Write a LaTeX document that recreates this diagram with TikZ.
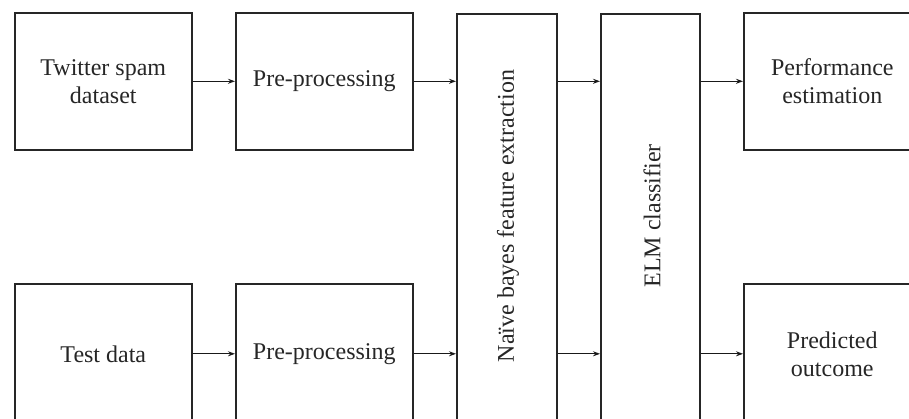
\documentclass[tikz,border=0pt]{standalone}
\usepackage{fontspec}
\setmainfont{Liberation Serif}
\usetikzlibrary{arrows.meta}
\begin{document}
\begin{tikzpicture}[x=1pt,y=-1pt,
  box/.style={draw=black!85, line width=1.6pt, inner sep=0pt, anchor=north west,
    font=\fontsize{24}{28}\selectfont, align=center, text=black!85},
  conn/.style={draw=black!90, line width=1.1pt, -{Stealth[length=7pt,width=5pt]}}]
\useasboundingbox (0,0) rectangle (909,419);
\clip (0,0) rectangle (909,419);
\node[box, minimum width=177pt, minimum height=137pt] (tw) at (14,12) {Twitter spam\\dataset};
\node[box, minimum width=177pt, minimum height=137pt] (pp1) at (235,12) {Pre-processing};
\node[box, minimum width=177pt, minimum height=140pt] (td) at (14,283) {Test data};
\node[box, minimum width=177pt, minimum height=140pt] (pp2) at (235,283) {Pre-processing};
\node[box, minimum width=100pt, minimum height=408pt] (nb) at (456,13) {};
\node[font=\fontsize{24}{28}\selectfont, text=black!85, rotate=90, inner sep=0pt] (nbt) at (508,216) {Naïve bayes feature extraction};
\node[box, minimum width=99pt, minimum height=408pt] (elm) at (600,13) {};
\node[font=\fontsize{24}{28}\selectfont, text=black!85, rotate=90, inner sep=0pt] (elmt) at (652,216) {ELM classifier};
\node[box, minimum width=177pt, minimum height=137pt] (pe) at (743,12) {Performance\\estimation};
\node[box, minimum width=177pt, minimum height=140pt] (po) at (743,283) {Predicted\\outcome};
\draw[conn] (tw.east) -- (pp1.west);
\draw[conn] (td.east) -- (pp2.west);
\draw[conn] (pp1.east) -- (pp1.east -| nb.west);
\draw[conn] (pp2.east) -- (pp2.east -| nb.west);
\draw[conn] (nb.east |- pp1.east) -- (elm.west |- pp1.east);
\draw[conn] (nb.east |- pp2.east) -- (elm.west |- pp2.east);
\draw[conn] (elm.east |- pe.west) -- (pe.west);
\draw[conn] (elm.east |- po.west) -- (po.west);
\end{tikzpicture}
\end{document}
